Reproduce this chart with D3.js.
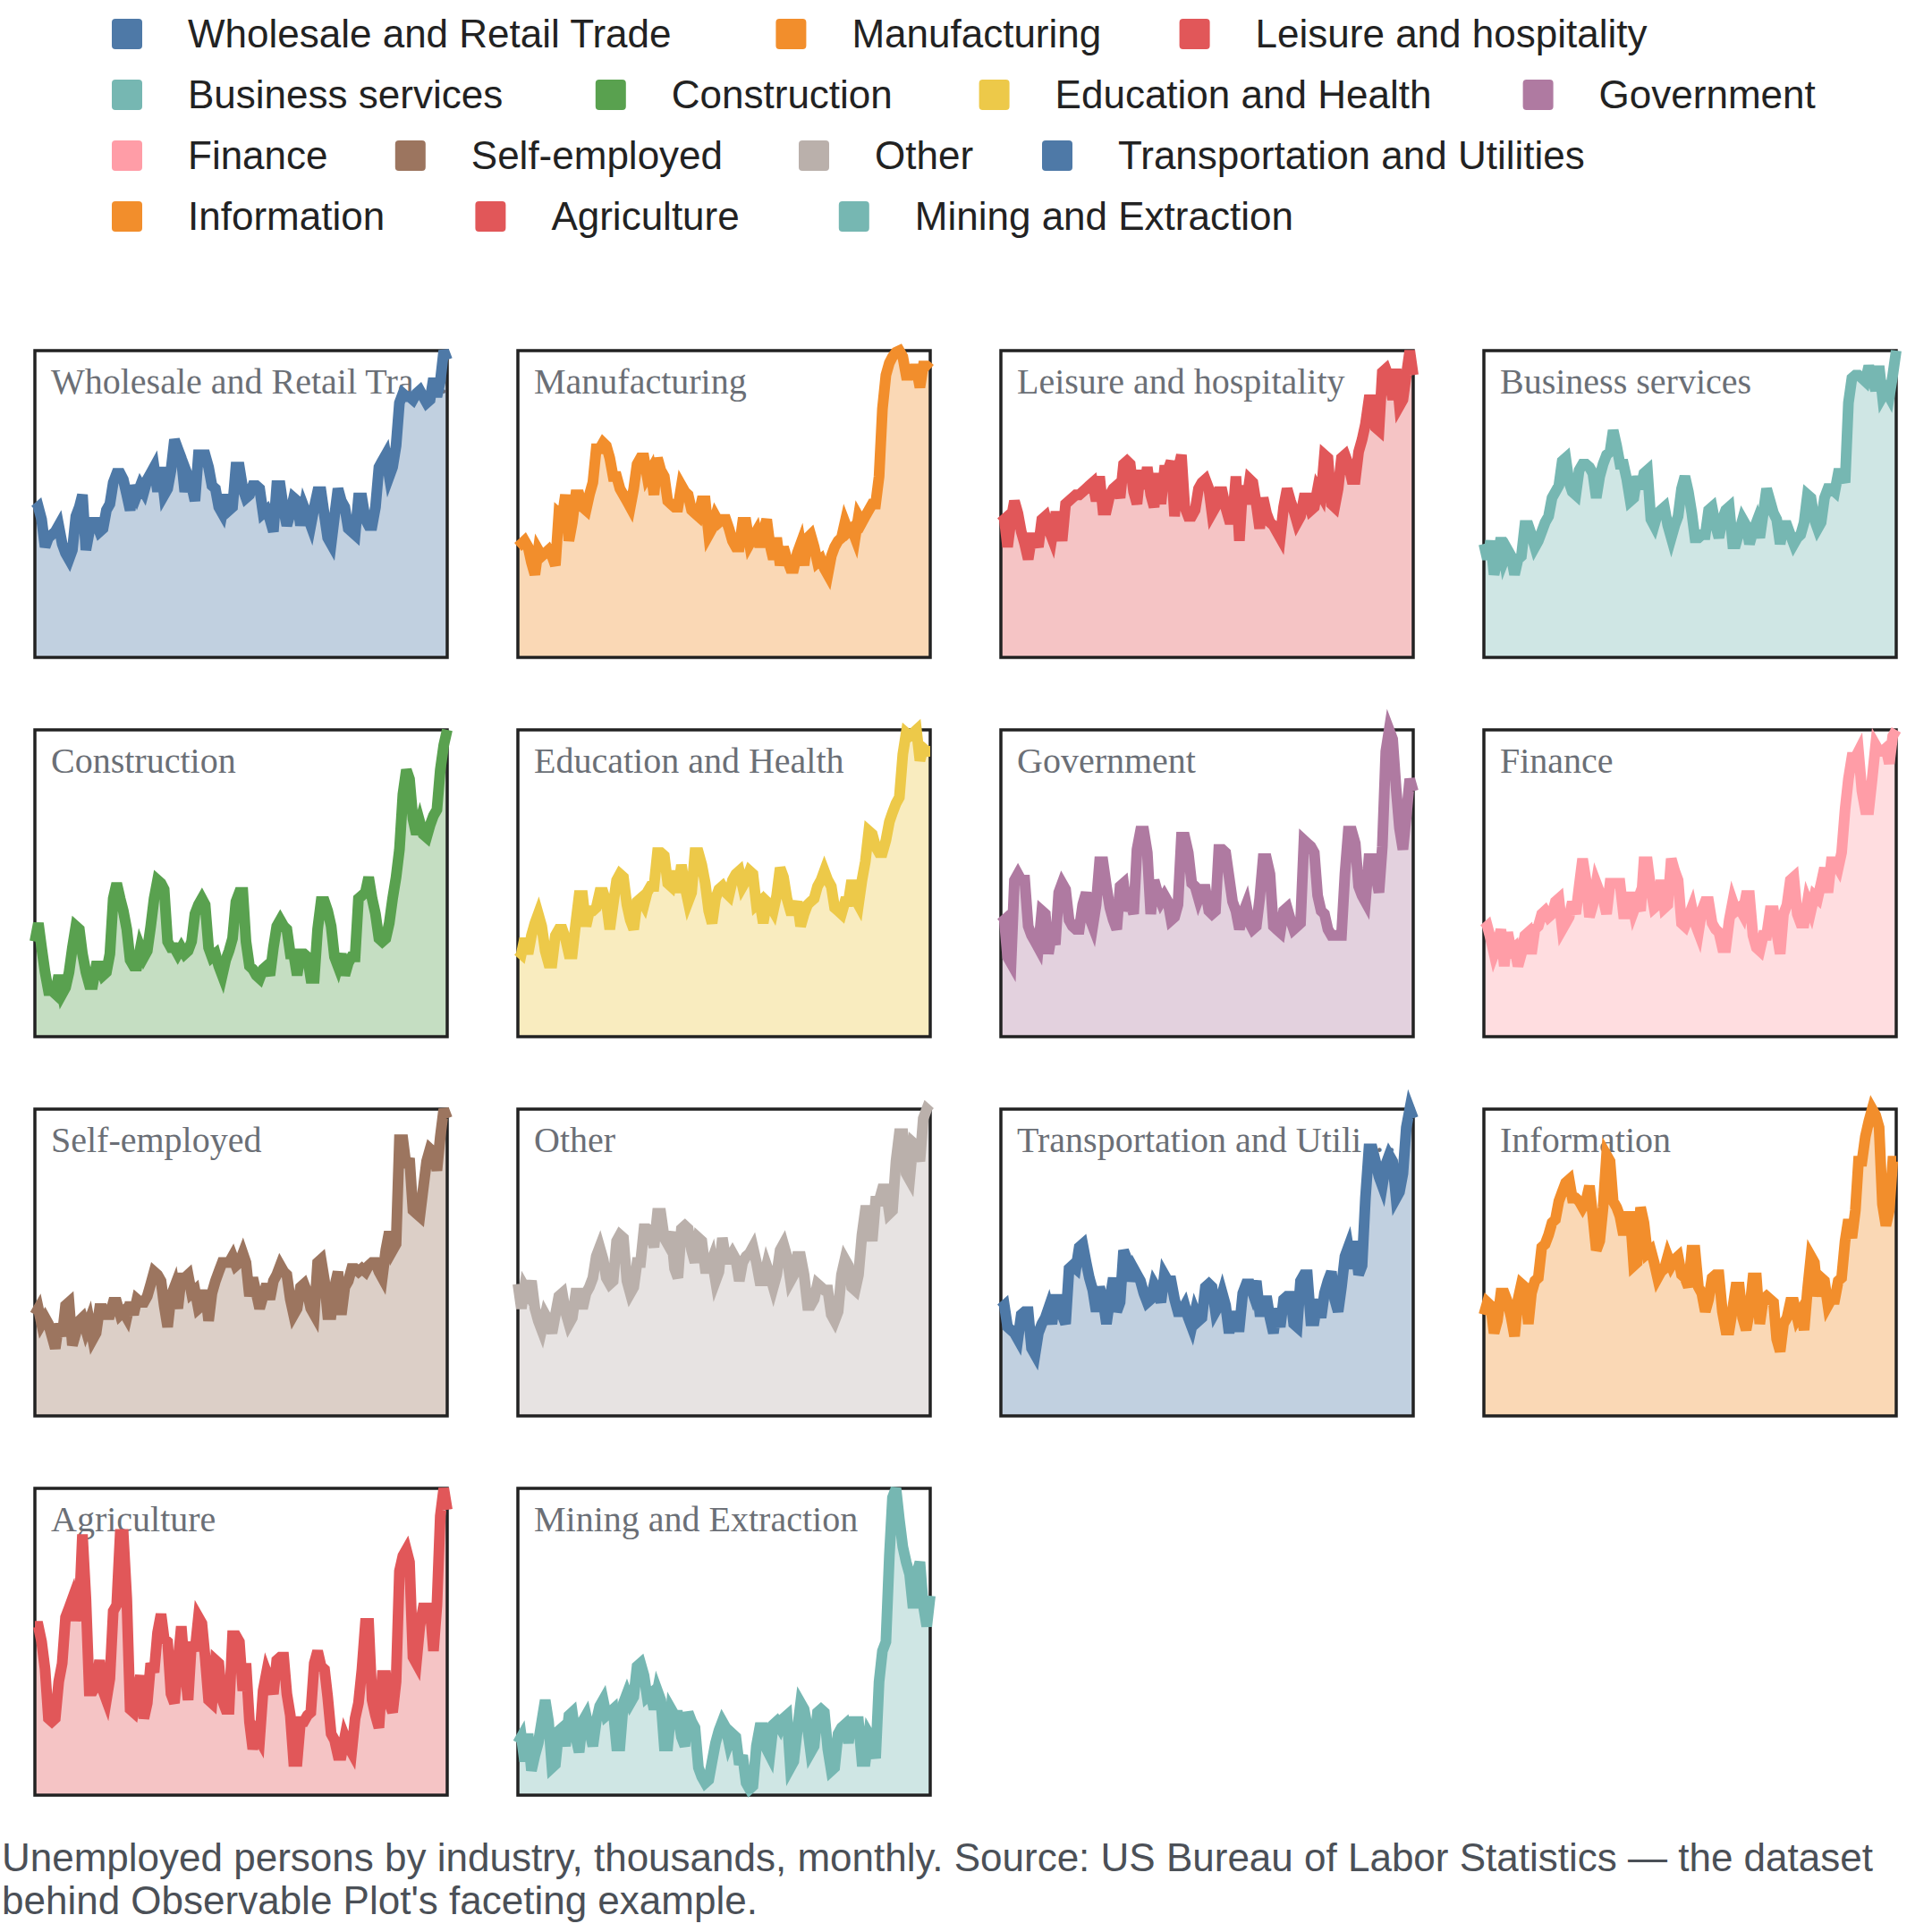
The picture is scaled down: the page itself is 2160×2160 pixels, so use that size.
<!DOCTYPE html>
<html>
<head>
<meta charset="utf-8">
<script src="https://cdn.jsdelivr.net/npm/d3@7"></script>
<style>
	html, body { margin: 0; padding: 0; background: #fff; }
	svg { display: block; }
</style>
</head>
<body>
<div id="chart"></div>
<script>
// Unemployed persons by industry (thousands), monthly Jan 2000 - Feb 2010
const industries = [
	"Wholesale and Retail Trade", "Manufacturing", "Leisure and hospitality", "Business services",
	"Construction", "Education and Health", "Government", "Finance",
	"Self-employed", "Other", "Transportation and Utilities", "Information",
	"Agriculture", "Mining and Extraction"
];

const wholesale = [960,980,900,720,780,800,820,860,740,680,640,700,
	920,980,1060,700,820,880,880,820,840,960,1000,1140,
	1200,1200,1160,1060,960,1120,1060,1120,1080,1160,1200,1240,
	1080,1240,1060,1100,1220,1420,1360,1300,1080,1180,1120,1020,
	1320,1320,1320,1240,1120,1100,980,940,1060,960,980,1240,
	1240,1100,1040,1060,1120,1120,1100,940,960,900,820,1120,
	1120,960,860,940,1040,1020,860,980,920,860,980,1080,
	1080,920,780,740,920,1100,1020,980,840,820,800,1040,
	1040,900,860,860,980,1240,1280,1320,1180,1240,1380,1660,
	1720,1700,1700,1680,1720,1740,1700,1660,1680,1820,1700,1800,2000,1940];

const manufacturing = [720,740,760,720,620,540,700,660,680,700,660,600,
	940,920,1060,760,880,1060,1060,980,960,1060,1140,1360,
	1360,1400,1380,1300,1180,1180,1100,1060,1020,980,1100,1260,
	1300,1300,1180,1220,1060,1300,1220,1180,1020,1000,980,980,
	1120,1080,1060,960,940,920,1020,1020,800,840,920,880,
	900,900,840,760,720,720,880,880,740,780,820,720,
	820,900,740,640,780,600,720,640,580,580,680,740,
	600,780,800,720,620,640,580,540,660,720,760,780,
	880,820,840,780,920,880,920,960,1000,1000,1180,1620,
	1840,1920,1960,1990,2000,1960,1840,1840,1880,1880,1760,1900,1900,1880];

const leisure = [660,675,540,675,765,705,615,555,480,585,585,540,
	675,690,630,585,690,690,570,750,765,780,795,795,
	810,825,840,855,765,885,720,720,795,825,840,780,
	945,960,945,810,750,915,825,930,795,735,900,750,
	915,915,960,690,915,990,735,690,690,720,825,855,
	870,825,705,735,810,810,735,675,675,885,570,840,
	750,870,855,750,630,780,705,660,645,615,585,735,
	825,765,720,660,690,780,780,720,735,825,795,990,
	975,750,735,825,975,990,945,870,870,1005,1065,1140,
	1260,1260,1125,1110,1395,1410,1365,1260,1410,1230,1260,1380,1500,1380];

const business = [555,480,570,405,480,585,480,525,495,405,480,495,
	645,645,600,540,570,615,660,690,780,810,840,960,
	975,855,810,795,915,945,945,930,900,780,885,945,
	990,1005,1110,1035,945,945,870,765,780,885,825,900,
	915,675,645,705,720,735,645,585,645,690,825,885,
	810,705,585,585,600,600,720,735,645,585,675,720,
	735,555,555,615,675,645,555,615,660,585,705,825,
	765,705,675,555,645,645,600,555,585,600,660,795,
	780,675,630,660,780,825,825,810,900,900,855,1245,
	1365,1380,1380,1365,1350,1425,1365,1305,1425,1275,1305,1275,1380,1500];

const construction = [775,925,725,525,375,375,350,500,350,400,525,725,
	900,875,675,525,425,425,575,575,500,525,675,1125,
	1250,1125,1025,875,625,575,575,725,650,700,900,1125,
	1275,1250,1200,775,725,725,675,725,675,700,775,1000,
	1075,1125,1075,725,650,675,575,500,625,700,800,1100,
	1175,1175,775,575,550,500,475,550,575,500,725,900,
	950,900,875,675,675,500,675,675,650,475,475,875,
	1100,1100,1025,900,650,575,675,500,600,650,650,1125,
	1150,1175,1300,1125,1000,800,775,800,925,1125,1300,1525,
	1975,2175,2100,1775,1650,1750,1650,1625,1725,1800,1850,2175,2375,2500];

const education = [280,270,320,270,330,370,400,360,280,240,240,330,
	350,350,320,270,270,370,460,460,360,410,410,420,
	470,470,440,350,430,510,530,520,430,380,350,440,
	450,430,470,490,490,600,600,590,500,490,540,470,
	560,490,440,470,600,600,560,500,410,370,450,480,
	490,470,460,510,530,540,490,510,540,530,430,440,
	370,440,430,410,460,550,520,450,410,410,440,360,
	400,430,440,450,490,510,540,510,490,420,410,400,
	440,440,510,450,430,510,570,670,660,620,600,600,
	640,700,730,760,780,920,990,980,990,1000,900,940,930,930];

const government = [296,304,208,192,408,424,408,408,288,264,248,232,
	328,320,216,272,240,376,400,384,304,288,280,280,
	344,376,312,288,344,456,456,392,336,304,280,392,
	400,328,352,320,488,536,536,480,320,408,376,352,
	368,352,304,312,344,520,520,480,400,392,360,384,
	384,328,320,328,488,488,480,416,352,328,280,320,
	344,296,280,288,360,464,464,424,288,280,272,328,
	336,304,280,288,296,512,504,496,480,368,328,320,
	280,264,264,264,264,424,536,536,504,392,368,352,
	464,464,424,376,496,744,800,776,648,544,488,576,672,640];

const finance = [210,216,192,162,180,210,138,204,168,174,138,162,
	198,204,162,210,216,240,246,234,240,264,270,210,
	222,234,264,240,294,348,306,234,258,300,282,270,
	240,300,300,300,300,240,240,282,246,264,246,342,
	342,288,252,258,306,252,258,348,324,306,222,216,
	234,252,222,204,246,264,264,222,210,204,174,174,
	228,264,246,252,240,276,276,198,174,168,198,198,
	246,246,204,162,240,258,306,312,240,222,222,264,
	246,276,270,300,330,282,342,342,330,360,444,504,
	546,546,558,480,444,444,504,570,558,558,564,534,588,600];

const selfEmployed = [264,280,240,256,240,208,176,240,208,288,296,184,
	216,248,256,224,248,200,216,280,280,264,264,296,
	296,264,272,256,296,264,304,296,296,312,344,376,
	368,352,288,232,312,336,280,360,360,368,320,328,
	280,288,328,248,320,352,376,400,400,400,416,392,
	400,424,400,312,360,320,280,312,344,304,352,368,
	392,376,368,304,264,280,336,344,320,280,264,400,
	408,352,264,264,336,376,264,336,352,384,384,376,
	384,376,392,400,400,376,360,432,480,432,448,720,
	720,648,672,536,528,520,592,664,696,688,640,728,800,776];

const other = [258,210,252,240,264,210,186,168,198,186,162,198,
	234,240,204,180,192,240,240,210,240,252,270,312,
	330,306,270,258,264,342,354,348,264,240,252,300,
	300,366,366,360,330,396,396,348,336,360,288,270,
	366,372,366,324,300,348,342,288,288,306,264,282,
	348,306,306,318,306,264,300,312,318,330,300,264,
	264,294,276,252,276,324,336,312,264,276,312,312,
	276,216,216,228,258,252,246,246,198,186,204,276,
	306,294,252,246,276,354,402,402,342,420,420,444,
	444,396,402,498,552,552,474,462,534,528,498,582,600,594];

const transportation = [210,216,174,168,162,150,198,204,204,132,120,162,
	180,192,210,180,228,228,198,180,288,294,288,330,
	336,300,270,246,204,252,228,180,228,270,204,222,
	324,306,264,288,276,264,240,222,228,258,246,222,
	276,264,264,228,204,204,216,192,174,204,186,192,
	252,258,252,204,216,240,216,162,204,174,174,240,
	258,258,240,264,204,204,234,192,162,210,174,228,
	234,234,180,174,264,276,276,186,186,228,192,240,
	264,282,228,204,252,312,330,288,342,276,294,426,
	522,522,498,468,450,492,510,498,426,438,474,564,600,582];

const information = [132,148,144,108,124,160,160,148,128,104,152,172,
	168,120,160,176,180,220,224,236,252,256,280,292,
	304,308,284,284,280,272,280,300,260,216,228,272,
	340,332,280,272,260,236,260,260,196,200,272,252,
	212,216,200,180,188,192,208,196,204,208,184,180,
	168,216,216,168,160,136,152,180,184,184,136,112,
	112,140,168,168,128,112,136,180,180,120,152,156,
	152,148,100,84,120,128,148,148,128,136,112,164,
	208,200,156,180,176,144,152,152,176,180,228,256,
	232,268,332,332,364,384,400,392,376,276,248,268,332,332];

const agriculture = [165,165,150,123,75,72,75,111,129,174,183,192,
	171,183,255,192,102,102,108,132,102,93,114,180,
	186,255,255,192,84,81,99,117,75,90,129,120,
	159,177,153,150,99,90,129,165,123,93,150,141,
	174,168,135,93,90,132,129,93,84,84,156,156,
	150,102,129,72,45,60,54,102,120,111,99,132,
	135,135,99,78,33,33,72,72,78,81,129,141,
	126,123,96,60,54,39,39,57,48,42,75,90,
	123,168,168,93,78,66,117,117,90,81,111,219,
	234,240,228,135,129,165,183,183,183,141,186,273,300,279];

const mining = [17,19,11,20,8,13,17,24,31,24,9,10,
	21,22,16,26,27,19,14,24,26,21,16,24,
	29,31,26,27,28,16,16,30,33,30,32,42,
	43,39,32,33,28,34,31,16,16,28,26,26,
	19,16,27,24,22,9,6,4,5,11,17,21,
	24,22,17,20,19,10,13,4,2,3,16,22,
	22,15,13,23,24,22,25,26,9,11,21,30,
	28,22,14,16,27,28,27,15,8,9,20,22,
	23,17,24,24,24,11,11,20,18,12,37,47,
	50,78,97,100,90,81,76,72,61,72,76,62,55,65];

const seriesValues = [
	wholesale, manufacturing, leisure, business,
	construction, education, government, finance,
	selfEmployed, other, transportation, information,
	agriculture, mining
];

const months = d3.utcMonth.range(new Date(Date.UTC(2000, 0, 1)), new Date(Date.UTC(2010, 2, 1)));

const caption = "Unemployed persons by industry, thousands, monthly. Source: US Bureau of Labor Statistics \u2014 the dataset behind Observable Plot's faceting example.";

// layout
const width = 2160, height = 2160;
const sans = "'Liberation Sans', Arial, Helvetica, sans-serif";
const serif = "'Liberation Serif', 'Times New Roman', Times, serif";

const legend = {left: 125, top: 38, rowStep: 68, swatch: 34, textOffset: 85, pad: 160, charWidth: 22.4};
const facet = {left: 39, top: 392, colStep: 540, rowStep: 424, width: 461, height: 343, columns: 4, maxTitle: 24};

const color = d3.scaleOrdinal(d3.schemeTableau10).domain(industries);

const data = industries.map((key, i) => ({
	key,
	data: months.map((date, j) => ({date, value: seriesValues[i][j]}))
}));

const svg = d3.select("#chart").append("svg")
	.attr("width", width)
	.attr("height", height)
	.attr("viewBox", `0 0 ${width} ${height}`);

// legend, wrapped into rows
const legendG = svg.append("g").attr("class", "legend");
let lx = legend.left, ly = legend.top;
industries.forEach(name => {
	const advance = legend.pad + name.length * legend.charWidth;
	if (lx + advance > width && lx > legend.left) {
		lx = legend.left;
		ly += legend.rowStep;
	}
	const item = legendG.append("g").attr("transform", `translate(${lx}, ${ly})`);
	item.append("rect")
		.attr("y", -legend.swatch / 2)
		.attr("width", legend.swatch)
		.attr("height", legend.swatch)
		.attr("rx", 4)
		.attr("fill", color(name));
	item.append("text")
		.attr("x", legend.textOffset)
		.attr("dy", "0.35em")
		.style("font-family", sans)
		.style("font-size", "44px")
		.style("fill", "#222")
		.text(name);
	lx += advance;
});

// facets
const x = d3.scaleUtc()
	.domain(d3.extent(months))
	.range([0, facet.width]);

const shorten = name => name.length > facet.maxTitle ? name.slice(0, facet.maxTitle) + "\u2026" : name;

data.forEach((series, i) => {
	const col = i % facet.columns, row = Math.floor(i / facet.columns);
	const y = d3.scaleLinear()
		.domain([0, d3.max(series.data, d => d.value)])
		.range([facet.height, 0]);

	const g = svg.append("g")
		.attr("class", "facet")
		.attr("transform", `translate(${facet.left + col * facet.colStep}, ${facet.top + row * facet.rowStep})`);

	g.append("path")
		.datum(series.data)
		.attr("d", d3.area().x(d => x(d.date)).y0(facet.height).y1(d => y(d.value)))
		.attr("fill", color(series.key))
		.attr("fill-opacity", 0.35);

	g.append("rect")
		.attr("width", facet.width)
		.attr("height", facet.height)
		.attr("fill", "none")
		.attr("stroke", "#222")
		.attr("stroke-width", 3.5);

	g.append("text")
		.attr("x", 18)
		.attr("y", 48)
		.style("font-family", serif)
		.style("font-size", "40px")
		.style("fill", "#6b6f76")
		.text(shorten(series.key));

	g.append("path")
		.datum(series.data)
		.attr("d", d3.line().x(d => x(d.date)).y(d => y(d.value)))
		.attr("fill", "none")
		.attr("stroke", color(series.key))
		.attr("stroke-width", 12);
});

// caption, wrapped to the page width
const cap = svg.append("text")
	.attr("x", 2)
	.attr("y", 2092)
	.style("font-family", sans)
	.style("font-size", "44px")
	.style("fill", "#4b5057");

let line = [], tspan = cap.append("tspan").attr("x", 2);
caption.split(" ").forEach(word => {
	line.push(word);
	tspan.text(line.join(" "));
	if (tspan.node().getComputedTextLength() > width - 4 && line.length > 1) {
		line.pop();
		tspan.text(line.join(" "));
		line = [word];
		tspan = cap.append("tspan").attr("x", 2).attr("dy", 48).text(word);
	}
});
</script>
</body>
</html>
